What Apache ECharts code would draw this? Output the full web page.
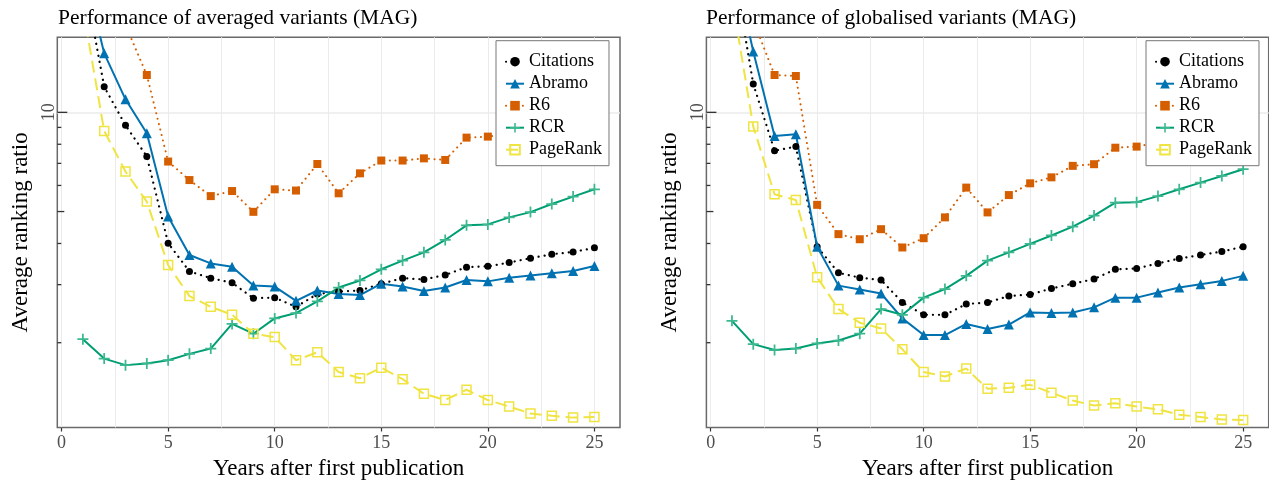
<!DOCTYPE html>
<html>
<head>
<meta charset="utf-8">
<script src="https://cdn.jsdelivr.net/npm/echarts@6/dist/echarts.min.js"></script>
<style>
html,body{margin:0;padding:0;background:#fff;}
#chart{width:1269px;height:482px;}
</style>
</head>
<body>
<div id="chart"></div>
<script>
// ---------- data ----------
const years = [1,2,3,4,5,6,7,8,9,10,11,12,13,14,15,16,17,18,19,20,21,22,23,24,25];
const seriesNames = ['Citations','Abramo','R6','RCR','PageRank'];
const panelTitles = ['Performance of averaged variants (MAG)','Performance of globalised variants (MAG)'];
const xTickLabels = [0,5,10,15,20,25];
const xGridValues = [0,2.5,5,7.5,10,12.5,15,17.5,20,22.5,25];
const yLabelValues = [10];
const yMidTick = [5];
const ySmallTicks = [2,3,4,6,7,8,9];

// averaged variants
const avgCitations = [26.7,11.96,9.13,7.35,4.01,3.29,3.14,3.04,2.73,2.74,2.57,2.81,2.86,2.88,3.02,3.14,3.11,3.21,3.39,3.41,3.50,3.61,3.71,3.77,3.88];
const avgAbramo    = [28.0,15.1,10.95,8.64,4.83,3.69,3.48,3.40,2.98,2.96,2.68,2.88,2.81,2.79,3.02,2.96,2.87,2.94,3.10,3.07,3.15,3.20,3.25,3.30,3.42];
const avgR6        = [40.0,26.0,18.4,12.98,7.09,6.23,5.57,5.77,4.99,5.84,5.79,6.97,5.68,6.53,7.14,7.14,7.25,7.17,8.38,8.44,8.6,8.8,9.0,9.2,9.4];
const avgRCR       = [2.05,1.79,1.71,1.73,1.77,1.85,1.92,2.28,2.13,2.37,2.46,2.67,2.94,3.09,3.34,3.55,3.76,4.10,4.54,4.57,4.80,4.98,5.27,5.55,5.84];
const avgPageRank  = [20.8,8.78,6.61,5.36,3.44,2.77,2.57,2.43,2.13,2.08,1.77,1.87,1.63,1.56,1.68,1.55,1.40,1.34,1.44,1.34,1.28,1.22,1.20,1.185,1.19];

// globalised variants
const globCitations = [29.4,12.19,7.65,7.87,3.91,3.26,3.15,3.10,2.65,2.43,2.43,2.62,2.65,2.77,2.80,2.92,3.02,3.12,3.34,3.36,3.48,3.60,3.69,3.78,3.91];
const globAbramo    = [30.0,15.3,8.48,8.58,3.91,2.98,2.90,2.82,2.37,2.11,2.11,2.28,2.20,2.27,2.47,2.46,2.47,2.56,2.74,2.74,2.84,2.94,3.01,3.08,3.19];
const globR6        = [28.0,19.0,12.98,12.89,5.24,4.27,4.12,4.42,3.89,4.15,4.80,5.91,4.97,5.61,6.09,6.35,6.88,6.96,7.81,7.87,8.1,8.4,8.7,9.0,9.3];
const globRCR       = [2.33,1.98,1.90,1.92,1.99,2.03,2.13,2.53,2.43,2.74,2.91,3.19,3.55,3.76,3.99,4.23,4.50,4.86,5.32,5.34,5.57,5.84,6.12,6.41,6.72];
const globPageRank  = [22.3,9.05,5.64,5.42,3.16,2.53,2.30,2.21,1.91,1.63,1.58,1.67,1.45,1.46,1.49,1.41,1.335,1.29,1.31,1.28,1.256,1.21,1.19,1.17,1.165];

const panelData = [
  [avgCitations, avgAbramo, avgR6, avgRCR, avgPageRank],
  [globCitations, globAbramo, globR6, globRCR, globPageRank]
];

// ---------- styles ----------
const FONT = 'Liberation Serif';
const Y_MIN = 1.106, Y_MAX = 16.89, X_MIN = -0.2, X_MAX = 26.2;
const PLUS = 'path://M4.2,0h1.6v4.2h4.2v1.6h-4.2v4.2h-1.6v-4.2h-4.2v-1.6h4.2z';
const styles = [
  {color:'#000000', symbol:'circle', size:7, line:{width:2.2, type:[0.1,6], cap:'round'}, item:{color:'#000000'}},
  {color:'#0072B2', symbol:'triangle', size:10, line:{width:2, type:'solid'}, item:{color:'#0072B2'}},
  {color:'#D55E00', symbol:'rect', size:8, line:{width:2, type:[0.1,5.5], cap:'round'}, item:{color:'#D55E00'}},
  {color:'#009E73', symbol:PLUS, size:11, line:{width:2, type:'solid'}, item:{color:'#3cb88f'}},
  {color:'#F0E442', symbol:'rect', size:9, line:{width:2, type:[12,6]}, item:{color:'rgba(255,255,255,0)', borderColor:'#F0E442', borderWidth:1.5}}
];

const grids = [
  {left:57.3, top:37.3, width:562.7, height:390.2},
  {left:706.4, top:37.3, width:562.3, height:390.2}
];

function tickLen(v){
  if (yLabelValues.indexOf(v) >= 0) return 10;
  if (yMidTick.indexOf(v) >= 0) return 7;
  return 4;
}
const allLogTicks = yLabelValues.concat(yMidTick, ySmallTicks);

const option = {
  animation:false,
  backgroundColor:'#ffffff',
  title: panelTitles.map((t,i)=>({
    text:t, left: i===0 ? 58 : 706, top:7, padding:0,
    textStyle:{fontFamily:FONT, fontSize:21.5, fontWeight:'normal', color:'#000'}
  })),
  legend: [0,1].map(i=>({
    orient:'vertical',
    left: i===0 ? 496 : 1146, top:40.7,
    padding:[12,7,7,9],
    itemGap:4, itemWidth:18, itemHeight:12,
    borderColor:'#777', borderWidth:1, backgroundColor:'#ffffff',
    z:20,
    textStyle:{fontFamily:FONT, fontSize:18, color:'#000'},
    data: seriesNames
  })),
  grid: grids.map(g=>Object.assign({show:true, borderColor:'#6a6a6a', borderWidth:1.5, backgroundColor:'rgba(0,0,0,0)', containLabel:false, outerBoundsMode:'none'}, g)),
  xAxis: [],
  yAxis: [],
  series: []
};

[0,1].forEach(p=>{
  option.xAxis.push({
    type:'value', gridIndex:p, min:X_MIN, max:X_MAX,
    axisLine:{show:false},
    axisTick:{show:true, customValues:xTickLabels, length:4, lineStyle:{color:'#333', width:1.2}},
    axisLabel:{customValues:xTickLabels, margin:7, fontFamily:FONT, fontSize:18, color:'#4d4d4d'},
    splitLine:{show:false},
    name:'Years after first publication', nameLocation:'middle', nameGap:22,
    nameTextStyle:{fontFamily:FONT, fontSize:23, color:'#000'}
  });
  option.xAxis.push({
    type:'value', gridIndex:p, min:X_MIN, max:X_MAX,
    axisLine:{show:false},
    axisTick:{show:false, customValues:xGridValues},
    axisLabel:{show:false},
    splitLine:{show:true, lineStyle:{color:'#ebebeb', width:1}}
  });
  option.yAxis.push({
    type:'log', logBase:10, gridIndex:p, min:Y_MIN, max:Y_MAX, position:'left', offset:0,
    axisLine:{show:false},
    axisTick:{show:false, customValues:yLabelValues},
    axisLabel:{customValues:yLabelValues, rotate:90, margin:-1, fontFamily:FONT, fontSize:18, color:'#4d4d4d'},
    splitLine:{show:true, lineStyle:{color:'#ebebeb', width:1.5}},
    name:'Average ranking ratio', nameLocation:'middle', nameGap:25,
    nameTextStyle:{fontFamily:FONT, fontSize:23, color:'#000'}
  });

  // log-tick annotations drawn through the axis scale
  option.series.push({
    type:'custom', silent:true, clip:false,
    xAxisIndex:p*2, yAxisIndex:p,
    data: allLogTicks.map(v=>[X_MIN, v]),
    encode:{x:0, y:1},
    renderItem:(params, api)=>{
      const v = api.value(1);
      const pt = api.coord([X_MIN, v]);
      const len = tickLen(v);
      return {type:'line', shape:{x1:pt[0], y1:pt[1], x2:pt[0]+len, y2:pt[1]},
              style:{stroke:'#333', lineWidth:1.3}};
    },
    z:3
  });

  seriesNames.forEach((name,k)=>{
    const st = styles[k];
    option.series.push({
      type:'line', name:name,
      xAxisIndex: p*2, yAxisIndex: p,
      data: years.map((yr,j)=>[yr, panelData[p][k][j]]),
      symbol: st.symbol, symbolSize: st.size, showAllSymbol:true,
      clip:true,
      lineStyle: Object.assign({color: st.color}, st.line),
      itemStyle: Object.assign({}, st.item),
      emphasis:{disabled:true}
    });
  });
});

const chart = echarts.init(document.getElementById('chart'), null, {renderer:'canvas'});
chart.setOption(option);
</script>
</body>
</html>
